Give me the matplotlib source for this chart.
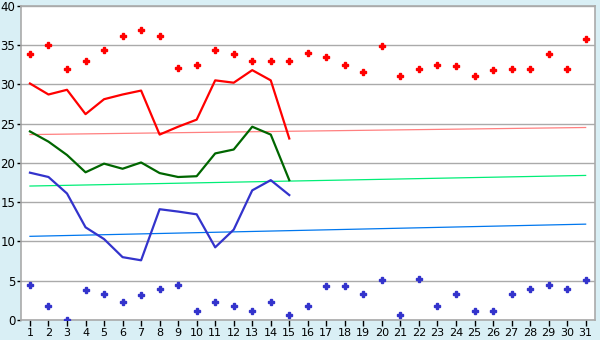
import matplotlib.pyplot as plt

days = list(range(1, 32))
line_days = list(range(1, 16))

red_points = [33.9, 35.0, 32.0, 33.0, 34.4, 36.2, 36.9, 36.2, 32.1, 32.4,
              34.4, 33.9, 33.0, 33.0, 33.0, 34.0, 33.5, 32.5, 31.6, 34.9,
              31.0, 32.0, 32.5, 32.3, 31.1, 31.8, 31.9, 32.0, 33.9, 32.0, 35.7]
red_line = [30.1, 28.7, 29.3, 26.2, 28.1, 28.7, 29.2, 23.6, 24.6, 25.5,
            30.5, 30.2, 31.8, 30.5, 23.1]
green_line = [24.0, 22.7, 21.0, 18.8, 19.9, 19.25, 20.05, 18.7, 18.2, 18.3,
              21.2, 21.7, 24.6, 23.6, 17.8]
blue_line = [18.75, 18.2, 16.1, 11.8, 10.3, 8.0, 7.6, 14.1, 13.8, 13.45,
             9.25, 11.5, 16.5, 17.8, 15.9]
blue_points = [4.4, 1.75, 0.0, 3.8, 3.3, 2.25, 3.15, 3.9, 4.4, 1.1,
               2.25, 1.75, 1.1, 2.25, 0.6, 1.75, 4.3, 4.3, 3.3, 5.05,
               0.6, 5.2, 1.75, 3.3, 1.1, 1.1, 3.3, 3.9, 4.4, 3.9, 5.05]

# trend lines: value at day 1 and day 31
red_trend = [23.6, 24.5]
green_trend = [17.05, 18.4]
blue_trend = [10.65, 12.2]
trend_days = [1, 31]

fig = plt.figure(figsize=(6, 3.4), dpi=100, facecolor='#d9eff5')
ax = fig.add_axes([0.0345, 0.0588, 0.957, 0.9244])
ax.set_facecolor('white')

ax.plot(trend_days, red_trend, color='#ff8080', lw=0.9, zorder=2)
ax.plot(trend_days, green_trend, color='#00ee77', lw=0.9, zorder=2)
ax.plot(trend_days, blue_trend, color='#0077ee', lw=0.9, zorder=2)

ax.plot(line_days, red_line, color='#ff0000', lw=1.6, zorder=3)
ax.plot(line_days, green_line, color='#006600', lw=1.6, zorder=3)
ax.plot(line_days, blue_line, color='#3333cc', lw=1.6, zorder=3)

ax.plot(days, red_points, ls='none', marker='P', ms=3.8, color='#ff0000',
        mec='#ff0000', zorder=4)
ax.plot(days, blue_points, ls='none', marker='P', ms=3.8, color='#3333cc',
        mec='#3333cc', zorder=4)

ax.set_xlim(0.5, 31.5)
ax.set_ylim(0, 40)
ax.set_xticks(days)
ax.set_yticks(range(0, 41, 5))
ax.grid(axis='y', color='#aaaaaa', lw=1)
ax.set_axisbelow(True)
for s in ax.spines.values():
    s.set_color('#aaaaaa')
    s.set_linewidth(1.2)
ax.tick_params(axis='x', length=4, width=1, color='black', labelsize=8, pad=2)
ax.tick_params(axis='y', length=3, width=1, color='black', labelsize=8.5, pad=1)

plt.savefig('out.png', dpi=100, facecolor=fig.get_facecolor())
